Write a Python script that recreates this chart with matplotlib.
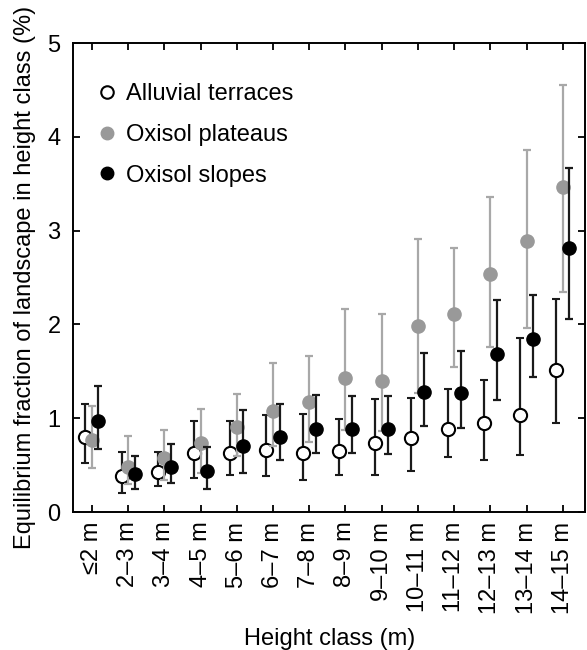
import matplotlib
matplotlib.use("Agg")
import matplotlib.pyplot as plt
from matplotlib.lines import Line2D
import numpy as np

plt.rcParams['font.family'] = ['Liberation Sans', 'DejaVu Sans']

categories = ["≤2 m", "2–3 m", "3–4 m", "4–5 m", "5–6 m", "6–7 m", "7–8 m",
              "8–9 m", "9–10 m", "10–11 m", "11–12 m", "12–13 m", "13–14 m", "14–15 m"]

alluvial = [0.80, 0.38, 0.43, 0.63, 0.63, 0.66, 0.63, 0.65, 0.74, 0.79, 0.89, 0.95, 1.03, 1.51]
alluvial_hi = [1.15, 0.64, 0.64, 0.97, 0.97, 1.03, 1.04, 0.99, 1.20, 1.22, 1.31, 1.41, 1.85, 2.27]
alluvial_lo = [0.52, 0.20, 0.28, 0.36, 0.39, 0.38, 0.34, 0.39, 0.39, 0.44, 0.59, 0.55, 0.61, 0.95]

plateau = [0.77, 0.48, 0.58, 0.74, 0.91, 1.08, 1.17, 1.43, 1.40, 1.98, 2.11, 2.54, 2.89, 3.46]
plateau_hi = [1.13, 0.81, 0.87, 1.10, 1.26, 1.59, 1.66, 2.16, 2.11, 2.91, 2.82, 3.36, 3.86, 4.55]
plateau_lo = [0.47, 0.30, 0.34, 0.42, 0.60, 0.70, 0.75, 0.87, 0.86, 1.27, 1.55, 1.76, 1.96, 2.35]

slopes = [0.97, 0.40, 0.48, 0.44, 0.70, 0.80, 0.89, 0.89, 0.89, 1.28, 1.27, 1.68, 1.84, 2.81]
slopes_hi = [1.34, 0.60, 0.72, 0.69, 1.09, 1.15, 1.25, 1.24, 1.24, 1.70, 1.72, 2.26, 2.31, 3.67]
slopes_lo = [0.67, 0.25, 0.31, 0.25, 0.42, 0.55, 0.63, 0.63, 0.62, 0.92, 0.90, 1.19, 1.44, 2.06]

series_names = ["Alluvial terraces", "Oxisol plateaus", "Oxisol slopes"]

fig = plt.figure(figsize=(5.87, 6.5), dpi=100)
ax = fig.add_axes([0.1244, 0.2123, 0.8726, 0.7215])

x = np.arange(len(categories))
off = 0.18

def yerr(v, lo, hi):
    v = np.array(v); lo = np.array(lo); hi = np.array(hi)
    return np.vstack([v - lo, hi - v])

ax.errorbar(x - off, alluvial, yerr=yerr(alluvial, alluvial_lo, alluvial_hi),
            fmt='o', mfc='white', mec='black', mew=1.5, ms=9.5,
            ecolor='#1a1a1a', elinewidth=1.6, capsize=3, capthick=1.6, zorder=2)
ax.errorbar(x, plateau, yerr=yerr(plateau, plateau_lo, plateau_hi),
            fmt='o', mfc='#999999', mec='#999999', ms=9.5,
            ecolor='#a8a8a8', elinewidth=1.6, capsize=3, capthick=1.6, zorder=3)
ax.errorbar(x + off, slopes, yerr=yerr(slopes, slopes_lo, slopes_hi),
            fmt='o', mfc='black', mec='black', ms=9.5,
            ecolor='#1a1a1a', elinewidth=1.6, capsize=3, capthick=1.6, zorder=4)

ax.set_xlim(-0.52, 13.62)
ax.set_ylim(0, 5)
ax.set_yticks([0, 1, 2, 3, 4, 5])
ax.set_xticks(x)
ax.set_xticklabels(categories, rotation=90, fontsize=17)
ax.tick_params(axis='y', labelsize=17, pad=9)
ax.tick_params(axis='x', pad=7)
ax.tick_params(direction='in', top=True, right=True, length=5, width=1.3)
for s in ax.spines.values():
    s.set_linewidth(1.4)
ax.set_xlabel("Height class (m)", fontsize=17, labelpad=10)
ax.set_ylabel("Equilibrium fraction of landscape in height class (%)", fontsize=17, labelpad=8)

handles = [
    Line2D([], [], ls='none', marker='o', mfc='white', mec='black', mew=1.5, ms=9),
    Line2D([], [], ls='none', marker='o', mfc='#999999', mec='#999999', ms=9),
    Line2D([], [], ls='none', marker='o', mfc='black', mec='black', ms=9),
]
ax.legend(handles, series_names, loc='upper left', frameon=False, fontsize=17,
          handletextpad=0.3, handlelength=1.0, borderaxespad=0.0, borderpad=0.0,
          labelspacing=0.8, bbox_to_anchor=(0.043, 0.915))

fig.savefig("out.png", dpi=100)
